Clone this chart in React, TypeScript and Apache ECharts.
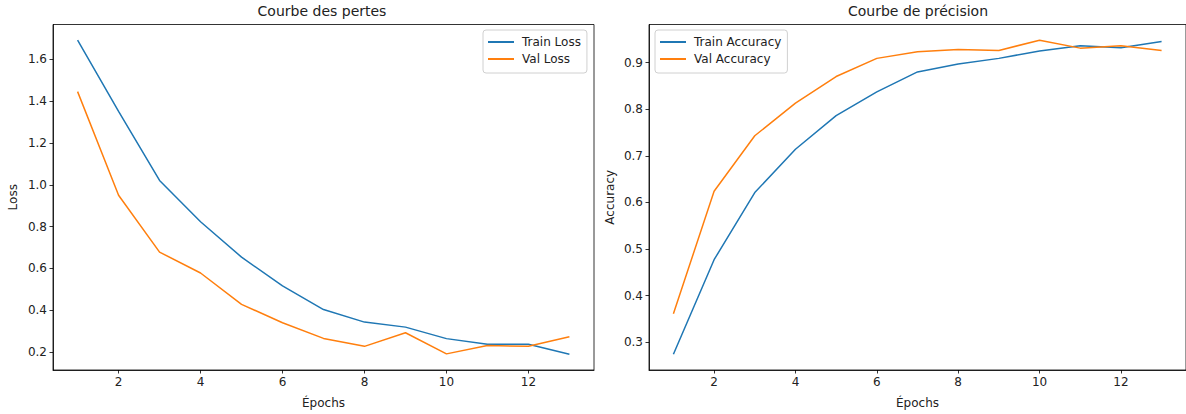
import React, { useEffect, useRef } from "react";
import * as echarts from "echarts";

// Training history (13 epochs)
const epochs = [1, 2, 3, 4, 5, 6, 7, 8, 9, 10, 11, 12, 13];
const trainLoss = [1.692, 1.351, 1.021, 0.823, 0.654, 0.516, 0.403, 0.343, 0.319, 0.264, 0.237, 0.237, 0.189];
const valLoss = [1.446, 0.95, 0.678, 0.578, 0.428, 0.34, 0.265, 0.227, 0.292, 0.191, 0.231, 0.227, 0.273];
const trainAcc = [0.274, 0.477, 0.621, 0.714, 0.786, 0.837, 0.88, 0.897, 0.909, 0.925, 0.936, 0.932, 0.945];
const valAcc = [0.361, 0.624, 0.743, 0.813, 0.87, 0.909, 0.923, 0.928, 0.926, 0.948, 0.931, 0.936, 0.926];

const xTicks = [2, 4, 6, 8, 10, 12];
const lossTicks = [0.2, 0.4, 0.6, 0.8, 1.0, 1.2, 1.4, 1.6];
const accTicks = [0.3, 0.4, 0.5, 0.6, 0.7, 0.8, 0.9];

const BLUE = "#1f77b4";
const ORANGE = "#ff7f0e";
const FONT = "DejaVu Sans";
const TEXT = "#222";

const pair = (ys: number[]) => epochs.map((e, i) => [e, ys[i]]);

// matplotlib-style auto limits: data range padded by 5% on each side
const padded = (vals: number[]) => {
  const lo = Math.min(...vals);
  const hi = Math.max(...vals);
  const m = (hi - lo) * 0.05;
  return [lo - m, hi + m];
};

const xAxisFor = (gridIndex: number) => ({
  type: "value",
  gridIndex,
  min: 0.4,
  max: 13.6,
  splitLine: { show: false },
  axisLine: { show: true, onZero: false, lineStyle: { color: "#000", width: 0.8 } },
  axisTick: { show: true, customValues: xTicks, length: 3.5, lineStyle: { color: "#000", width: 0.8 } },
  axisLabel: { customValues: xTicks, color: TEXT, fontSize: 12, fontFamily: FONT, margin: 6 },
  name: "Épochs",
  nameLocation: "middle",
  nameGap: 27,
  nameTextStyle: { color: TEXT, fontSize: 12, fontFamily: FONT },
});

const yAxisFor = (gridIndex: number, ticks: number[], range: number[], name: string, gap: number) => ({
  type: "value",
  gridIndex,
  min: range[0],
  max: range[1],
  splitLine: { show: false },
  axisLine: { show: true, onZero: false, lineStyle: { color: "#000", width: 0.8 } },
  axisTick: { show: true, customValues: ticks, length: 3.5, lineStyle: { color: "#000", width: 0.8 } },
  axisLabel: {
    customValues: ticks,
    formatter: (v: number) => v.toFixed(1),
    color: TEXT,
    fontSize: 12,
    fontFamily: FONT,
    margin: 6,
  },
  name,
  nameLocation: "middle",
  nameGap: gap,
  nameTextStyle: { color: TEXT, fontSize: 12, fontFamily: FONT },
});

const lineSeries = (name: string, data: number[], color: string, idx: number) => ({
  name,
  type: "line",
  xAxisIndex: idx,
  yAxisIndex: idx,
  data: pair(data),
  showSymbol: false,
  symbol: "none",
  lineStyle: { color, width: 1.5 },
  itemStyle: { color },
});

const legendBase = {
  orient: "vertical",
  icon: "rect",
  itemWidth: 26,
  itemHeight: 2,
  itemGap: 5,
  padding: [6, 6, 8, 5],
  borderColor: "#d0d0d0",
  borderWidth: 1,
  borderRadius: 3,
  backgroundColor: "rgba(255,255,255,0.8)",
  textStyle: { color: TEXT, fontSize: 12, fontFamily: FONT, padding: [0, 0, 0, 3] },
};

const titleStyle = { color: TEXT, fontSize: 14, fontWeight: "normal", fontFamily: FONT };

export default function App() {
  const ref = useRef<HTMLDivElement>(null);

  useEffect(() => {
    if (!ref.current) return;
    const chart = echarts.init(ref.current, undefined, { renderer: "svg" });
    chart.setOption({
      animation: false,
      backgroundColor: "#fff",
      title: [
        { text: "Courbe des pertes", left: 322, top: 4, padding: 0, textAlign: "center", textStyle: titleStyle },
        { text: "Courbe de précision", left: 918, top: 4, padding: 0, textAlign: "center", textStyle: titleStyle },
      ],
      grid: [
        { left: 53, top: 24.5, width: 541, height: 346.5, show: true, borderColor: "#000", borderWidth: 0.8, backgroundColor: "transparent" },
        { left: 649, top: 24.5, width: 541, height: 346.5, show: true, borderColor: "#000", borderWidth: 0.8, backgroundColor: "transparent" },
      ],
      xAxis: [xAxisFor(0), xAxisFor(1)],
      yAxis: [
        yAxisFor(0, lossTicks, padded([...trainLoss, ...valLoss]), "Loss", 34),
        yAxisFor(1, accTicks, padded([...trainAcc, ...valAcc]), "Accuracy", 33),
      ],
      legend: [
        { ...legendBase, data: ["Train Loss", "Val Loss"], left: 483, top: 30 },
        { ...legendBase, data: ["Train Accuracy", "Val Accuracy"], left: 655, top: 30 },
      ],
      series: [
        lineSeries("Train Loss", trainLoss, BLUE, 0),
        lineSeries("Val Loss", valLoss, ORANGE, 0),
        lineSeries("Train Accuracy", trainAcc, BLUE, 1),
        lineSeries("Val Accuracy", valAcc, ORANGE, 1),
      ],
    });
    return () => chart.dispose();
  }, []);

  return (
    <div
      ref={ref}
      style={{ position: "absolute", left: 0, top: 0, width: 1186, height: 414 }}
    />
  );
}
